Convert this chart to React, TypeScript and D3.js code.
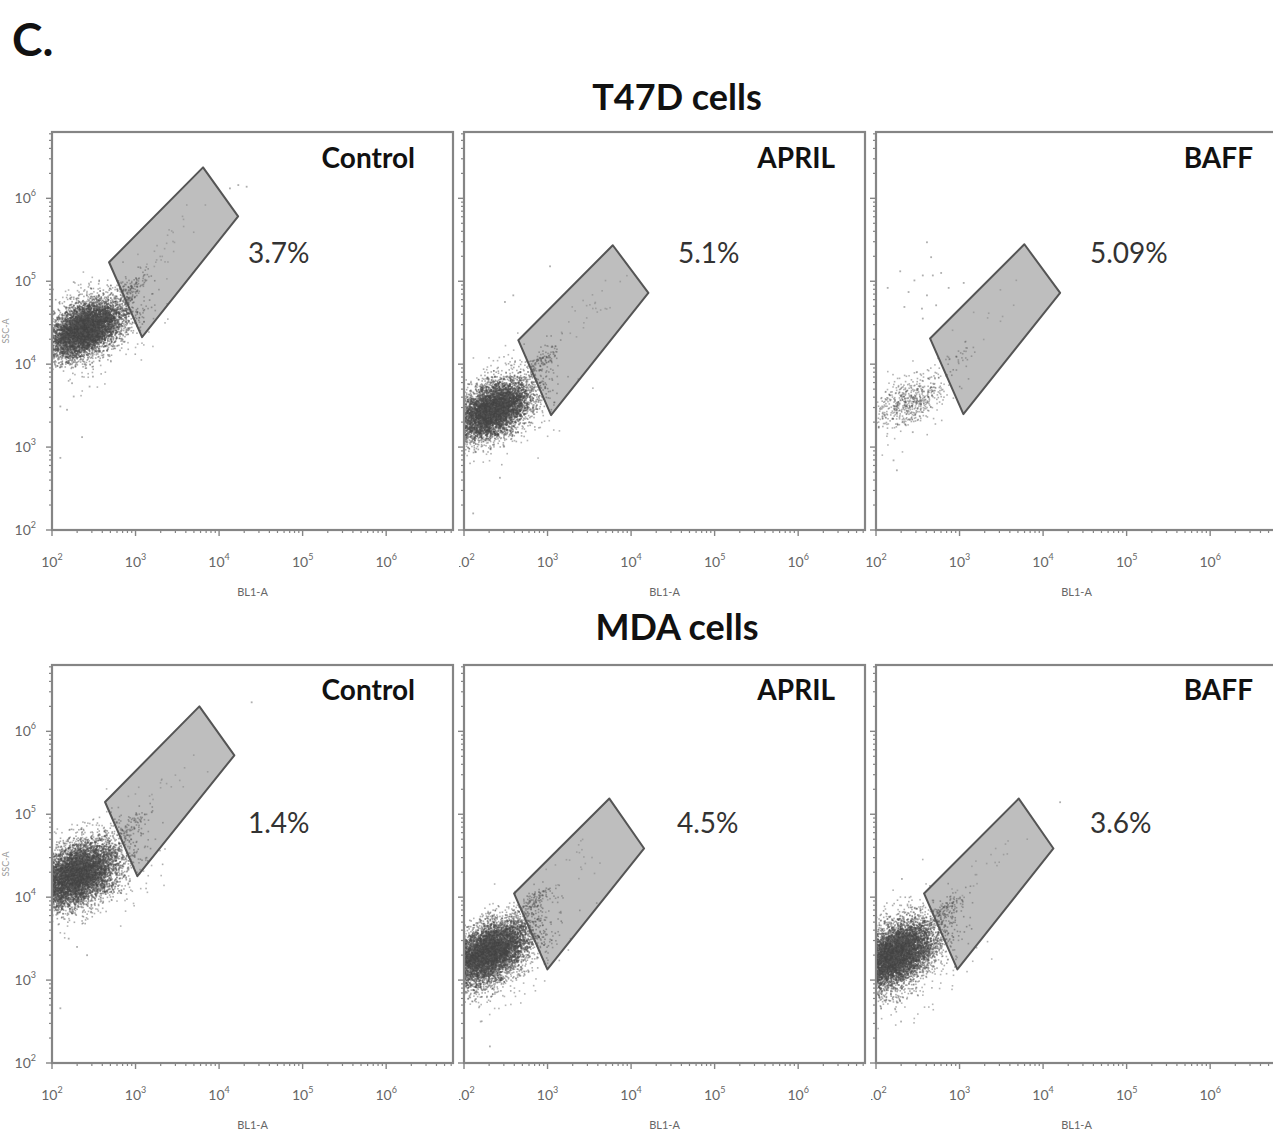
import React, { useMemo } from 'react';
import * as d3 from 'd3';

// ---------------- DATA ----------------
const FIGURE_LETTER = 'C.';
const ROW_TITLES = ['T47D cells', 'MDA cells'];
const CONDITIONS = ['Control', 'APRIL', 'BAFF'];
const GATE_PERCENTS = [
  ['3.7%', '5.1%', '5.09%'],
  ['1.4%', '4.5%', '3.6%'],
];
const TICK_EXPONENTS = [2, 3, 4, 5, 6];
const AXIS_MIN_EXP = 2;
const AXIS_MAX_EXP = 6.8;
const X_AXIS_LABEL = 'BL1-A';
const Y_AXIS_LABEL = 'SSC-A';

// Gate polygons, vertices as [log10 BL1-A, log10 SSC-A]
const GATE_T47D_CONTROL = [[2.683, 5.229], [3.808, 6.373], [4.228, 5.783], [3.078, 4.325]];
const GATE_T47D_APRIL = [[2.65, 4.289], [3.781, 5.434], [4.207, 4.859], [3.042, 3.386]];
const GATE_T47D_BAFF = [[2.647, 4.31], [3.776, 5.446], [4.204, 4.859], [3.046, 3.398]];
const GATE_MDA_CONTROL = [[2.635, 5.148], [3.764, 6.301], [4.183, 5.711], [3.022, 4.253]];
const GATE_MDA_APRIL = [[2.599, 4.045], [3.74, 5.189], [4.156, 4.587], [2.998, 3.129]];
const GATE_MDA_BAFF = [[2.575, 4.045], [3.709, 5.189], [4.124, 4.587], [2.974, 3.129]];

// Event populations:
// [center log10 x, center log10 y, sd along major axis, sd along minor axis, major-axis angle (deg), events, shade 0 dark .. 1 light]
const POPS_T47D_CONTROL = [
  [2.4, 4.42, 0.25, 0.14, 30, 6500, 0],
  [2.42, 4.42, 0.37, 0.23, 30, 700, 0.3],
  [2.95, 4.92, 0.14, 0.06, 42, 110, 0.2],
  [3.45, 5.5, 0.35, 0.1, 45, 30, 0.7],
];
const POPS_T47D_APRIL = [
  [2.35, 3.45, 0.25, 0.14, 32, 6000, 0],
  [2.37, 3.45, 0.37, 0.23, 32, 650, 0.3],
  [2.95, 4.05, 0.14, 0.06, 42, 120, 0.2],
  [3.4, 4.55, 0.35, 0.1, 45, 30, 0.7],
];
const POPS_T47D_BAFF = [
  [2.4, 3.55, 0.22, 0.13, 30, 520, 0.15],
  [2.4, 3.55, 0.34, 0.2, 30, 90, 0.35],
  [3.0, 4.1, 0.14, 0.06, 42, 30, 0.35],
  [3.4, 4.6, 0.3, 0.1, 45, 10, 0.7],
];
const POPS_MDA_CONTROL = [
  [2.3, 4.27, 0.27, 0.16, 30, 7000, 0],
  [2.32, 4.25, 0.39, 0.25, 32, 900, 0.3],
  [2.95, 4.85, 0.14, 0.06, 42, 80, 0.2],
  [3.35, 5.35, 0.32, 0.1, 45, 20, 0.7],
];
const POPS_MDA_APRIL = [
  [2.3, 3.33, 0.27, 0.15, 32, 6800, 0],
  [2.32, 3.3, 0.39, 0.24, 32, 800, 0.3],
  [2.85, 3.95, 0.14, 0.06, 42, 120, 0.2],
  [3.3, 4.35, 0.32, 0.1, 45, 28, 0.7],
];
const POPS_MDA_BAFF = [
  [2.22, 3.3, 0.28, 0.16, 35, 7200, 0],
  [2.25, 3.25, 0.41, 0.26, 35, 900, 0.3],
  [2.85, 3.85, 0.14, 0.06, 42, 120, 0.2],
  [3.3, 4.35, 0.3, 0.1, 45, 24, 0.7],
];

// Individual outlying events, [log10 x, log10 y]
const OUT_T47D_CONTROL = [
  [2.1, 3.49], [2.18, 3.45], [2.26, 3.61], [2.36, 3.12], [2.1, 2.87], [2.45, 3.73],
  [2.49, 3.85], [2.24, 3.77], [4.13, 6.12], [4.23, 6.16], [4.33, 6.14], [2.26, 4.99],
];
const OUT_T47D_APRIL = [
  [3.03, 5.18], [2.59, 4.83], [2.49, 4.75], [2.43, 2.63], [2.11, 2.2],
];
const OUT_T47D_BAFF = [
  [2.61, 5.47], [2.66, 5.29], [2.29, 5.12], [2.46, 5.01], [2.56, 5.07], [2.68, 5.07],
  [2.78, 5.1], [2.39, 4.87], [2.61, 4.83], [2.87, 4.92], [3.05, 4.98], [2.14, 4.92],
  [2.34, 4.69], [2.55, 4.67], [2.72, 4.71], [2.56, 4.55], [2.21, 2.84], [2.25, 2.72], [2.44, 3.18],
];
const OUT_MDA_CONTROL = [[2.1, 2.66], [4.39, 6.35], [2.3, 3.4], [2.42, 3.3], [2.2, 3.5]];
const OUT_MDA_APRIL = [[2.31, 2.2], [2.2, 2.5]];
const OUT_MDA_BAFF = [[2.31, 4.22], [4.204, 5.145], [2.3, 2.5]];

const GATES = [
  [GATE_T47D_CONTROL, GATE_T47D_APRIL, GATE_T47D_BAFF],
  [GATE_MDA_CONTROL, GATE_MDA_APRIL, GATE_MDA_BAFF],
];
const POPS = [
  [POPS_T47D_CONTROL, POPS_T47D_APRIL, POPS_T47D_BAFF],
  [POPS_MDA_CONTROL, POPS_MDA_APRIL, POPS_MDA_BAFF],
];
const OUTLIERS = [
  [OUT_T47D_CONTROL, OUT_T47D_APRIL, OUT_T47D_BAFF],
  [OUT_MDA_CONTROL, OUT_MDA_APRIL, OUT_MDA_BAFF],
];

// ---------------- LAYOUT ----------------
const W = 1273;
const H = 1132;
const COLS_LEFT = [52, 464, 876];
const ROWS_TOP = [132, 665];
const PW = 401;
const PH = 398;
const TITLE_BASELINE = [110, 640];
const COND_RIGHT_OFFSET = [38, 30, 24];
const COND_BASELINE = [36, 35];
const PCT_LEFT_OFFSET = [[196, 214, 214], [196, 213, 214]];
const PCT_BASELINE = [131, 168];
const CLIP_FIRST_LABEL = [[false, true, false], [false, true, true]];

const FONT = 'Lato, "Open Sans", "DejaVu Sans", sans-serif';
const AXIS_COLOR = '#858585';
const TICK_TEXT = '#666';

function makeEvents(pops: number[][], seed: number) {
  const pts: [number, number, number][] = [];
  pops.forEach((p, k) => {
    const [cx, cy, sa, sb, ang, n, shade] = p;
    const rng = d3.randomLcg(((seed * 37 + k * 11) % 97) / 97 + 0.0031);
    const norm = d3.randomNormal.source(rng)(0, 1);
    const a = (ang * Math.PI) / 180;
    const ca = Math.cos(a), sn = Math.sin(a);
    for (let i = 0; i < n; i++) {
      const u = norm() * sa;
      const v = norm() * sb;
      const lx = cx + u * ca - v * sn;
      const ly = cy + u * sn + v * ca;
      if (lx > AXIS_MIN_EXP + 0.005 && lx < AXIS_MAX_EXP && ly > AXIS_MIN_EXP + 0.005 && ly < AXIS_MAX_EXP) {
        pts.push([lx, ly, shade]);
      }
    }
  });
  return pts;
}

const shadeColor = d3.interpolateRgb('#474747', '#8c8c8c');

function Panel({ row, col }: { row: number; col: number }) {
  const left = COLS_LEFT[col];
  const top = ROWS_TOP[row];
  const x = d3.scaleLog().domain([10 ** AXIS_MIN_EXP, 10 ** AXIS_MAX_EXP]).range([left, left + PW]);
  const y = d3.scaleLog().domain([10 ** AXIS_MIN_EXP, 10 ** AXIS_MAX_EXP]).range([top + PH, top]);

  const events = useMemo(() => makeEvents(POPS[row][col], row * 3 + col + 1), [row, col]);
  const gate = GATES[row][col];
  const gatePath = d3.line<number[]>()
    .x((d) => x(10 ** d[0]))
    .y((d) => y(10 ** d[1]))
    .curve(d3.curveLinearClosed)(gate) as string;

  const minorTicks: number[] = [];
  for (let e = AXIS_MIN_EXP; e <= 6; e++) {
    for (let m = 2; m <= 9; m++) {
      const v = m * 10 ** e;
      if (Math.log10(v) <= AXIS_MAX_EXP) minorTicks.push(v);
    }
  }
  const majors = TICK_EXPONENTS.map((e) => 10 ** e);
  const clipId = `clip-${row}-${col}`;
  const lblClipId = `lclip-${row}-${col}`;
  const bottom = top + PH;

  return (
    <g>
      <defs>
        <clipPath id={clipId}>
          <rect x={left} y={top} width={PW} height={PH} />
        </clipPath>
        <clipPath id={lblClipId}>
          <rect x={CLIP_FIRST_LABEL[row][col] ? left - 5 : left - 30} y={bottom} width={PW + 60} height={60} />
        </clipPath>
      </defs>
      <rect x={left} y={top} width={PW} height={PH} fill="#ffffff" />
      <g clipPath={`url(#${clipId})`}>
        <path d={gatePath} fill="#bebebe" stroke="none" />
        {events.map((p, i) => (
          <rect key={i} x={x(10 ** p[0]) - 0.8} y={y(10 ** p[1]) - 0.8} width={1.6} height={1.6}
            fill={shadeColor(p[2])} fillOpacity={p[2] > 0.5 ? 0.45 : 0.45} />
        ))}
        {OUTLIERS[row][col].map((p, i) => (
          <rect key={'o' + i} x={x(10 ** p[0]) - 0.9} y={y(10 ** p[1]) - 0.9} width={1.8} height={1.8} fill="#8c8c8c" fillOpacity={0.7} />
        ))}
        <path d={gatePath} fill="none" stroke="#555" strokeWidth={2} strokeLinejoin="round" />
      </g>
      {/* frame */}
      <rect x={left} y={top} width={PW} height={PH} fill="none" stroke={AXIS_COLOR} strokeWidth={2.2} />
      {/* x ticks */}
      {minorTicks.map((v, i) => (
        <line key={'xm' + i} x1={x(v)} x2={x(v)} y1={bottom} y2={bottom + 3} stroke={AXIS_COLOR} strokeWidth={1.2} />
      ))}
      {majors.map((v, i) => (
        <line key={'xM' + i} x1={x(v)} x2={x(v)} y1={bottom} y2={bottom + 6} stroke={AXIS_COLOR} strokeWidth={1.4} />
      ))}
      {/* y ticks */}
      {minorTicks.map((v, i) => (
        <line key={'ym' + i} x1={left} x2={left - 3} y1={y(v)} y2={y(v)} stroke={AXIS_COLOR} strokeWidth={1.2} />
      ))}
      {majors.map((v, i) => (
        <line key={'yM' + i} x1={left} x2={left - 6} y1={y(v)} y2={y(v)} stroke={AXIS_COLOR} strokeWidth={1.4} />
      ))}
      {/* x tick labels */}
      <g clipPath={`url(#${lblClipId})`}>
        {TICK_EXPONENTS.map((e, i) => (
          <text key={'xl' + i} x={x(10 ** e)} y={bottom + 37} textAnchor="middle" fontFamily={FONT} fontSize={14} fill={TICK_TEXT}>
            10<tspan dy={-7} fontSize={9}>{e}</tspan>
          </text>
        ))}
      </g>
      <text x={left + PW / 2} y={bottom + 66} textAnchor="middle" fontFamily={FONT} fontSize={11} fill={TICK_TEXT}>
        {X_AXIS_LABEL}
      </text>
      {/* y tick labels only on first column */}
      {col === 0 && TICK_EXPONENTS.map((e, i) => (
        <text key={'yl' + i} x={left - 16} y={y(10 ** e) + 5} textAnchor="end" fontFamily={FONT} fontSize={14} fill={TICK_TEXT}>
          10<tspan dy={-7} fontSize={9}>{e}</tspan>
        </text>
      ))}
      {col === 0 && (
        <text transform={`translate(9,${top + PH / 2}) rotate(-90)`} textAnchor="middle" fontFamily={FONT} fontSize={9} fill="#999">
          {Y_AXIS_LABEL}
        </text>
      )}
      {/* condition label */}
      <text x={left + PW - COND_RIGHT_OFFSET[col]} y={top + COND_BASELINE[row]} textAnchor="end" fontFamily={FONT} fontWeight={700} fontSize={28} fill="#111">
        {CONDITIONS[col]}
      </text>
      {/* gate percentage */}
      <text x={left + PCT_LEFT_OFFSET[row][col]} y={top + PCT_BASELINE[row]} fontFamily={FONT} fontSize={28} fill="#333">
        {GATE_PERCENTS[row][col]}
      </text>
    </g>
  );
}

export default function App() {
  return (
    <svg width={W} height={H} viewBox={`0 0 ${W} ${H}`} style={{ position: 'absolute', left: 0, top: 0, background: '#fff' }}>
      <rect x={0} y={0} width={W} height={H} fill="#fff" />
      <text x={12} y={56} fontFamily={FONT} fontWeight={700} fontSize={46} fill="#111">{FIGURE_LETTER}</text>
      {ROW_TITLES.map((t, r) => (
        <text key={t} x={677} y={TITLE_BASELINE[r]} textAnchor="middle" fontFamily={FONT} fontWeight={700} fontSize={36} fill="#111">
          {t}
        </text>
      ))}
      {[0, 1].map((r) => [0, 1, 2].map((c) => <Panel key={`${r}-${c}`} row={r} col={c} />))}
    </svg>
  );
}
